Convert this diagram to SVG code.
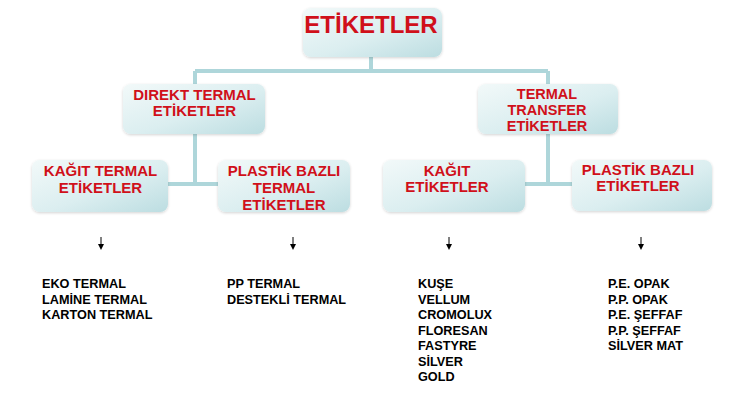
<svg xmlns="http://www.w3.org/2000/svg" width="746" height="400" viewBox="0 0 746 400">
<defs>
<linearGradient id="g" x1="0" y1="0" x2="1" y2="1">
<stop offset="0" stop-color="#f2f9f9"/>
<stop offset="0.55" stop-color="#dbeef0"/>
<stop offset="1" stop-color="#bcdde1"/>
</linearGradient>
<filter id="sh" x="-10%" y="-15%" width="120%" height="135%">
<feGaussianBlur in="SourceAlpha" stdDeviation="1.5"/>
<feOffset dx="0" dy="1"/>
<feComponentTransfer><feFuncA type="linear" slope="0.18"/></feComponentTransfer>
<feMerge><feMergeNode/><feMergeNode in="SourceGraphic"/></feMerge>
</filter>
<marker id="ah" markerWidth="6" markerHeight="6" refX="0" refY="3" orient="auto" markerUnits="userSpaceOnUse" viewBox="0 0 6 6">
<path d="M0,0 L6,3 L0,6 Z" fill="#000"/>
</marker>
</defs>
<style>
.box{fill:url(#g);filter:url(#sh)}
.t{font-family:"Liberation Sans",Arial,sans-serif;font-weight:bold;fill:#d0101a;text-anchor:middle;font-size:15px}
.root{font-size:24px}
.tt{font-size:14.5px}
.l{font-family:"Liberation Sans",Arial,sans-serif;font-weight:bold;fill:#000;font-size:12.7px}
.c{stroke:#aed6da;stroke-width:4;fill:none}
.a{stroke:#000;stroke-width:1;marker-end:url(#ah)}
</style>
<rect width="746" height="400" fill="#fff"/>
<g id="connectors">
<path class="c" d="M371,57 V71 M195,71 H548 M195,71 V84 M548,71 V84"/>
<path class="c" d="M195,134 V184 M168,184 H218"/>
<path class="c" d="M548,134 V184 M525,184 H572"/>
<line class="a" x1="101" y1="237" x2="101" y2="244"/>
<line class="a" x1="293" y1="237" x2="293" y2="244"/>
<line class="a" x1="449" y1="237" x2="449" y2="244"/>
<line class="a" x1="641" y1="237" x2="641" y2="244"/>
</g>
<g id="root">
<rect class="box" x="303" y="8" width="139" height="49" rx="8"/>
<text class="t root" x="371" y="33">ETİKETLER</text>
</g>
<g id="direkt">
<rect class="box" x="123" y="84" width="142" height="50" rx="8"/>
<text class="t" x="194.5" y="100">DIREKT TERMAL</text>
<text class="t" x="194.5" y="116">ETİKETLER</text>
</g>
<g id="transfer">
<rect class="box" x="478" y="84" width="140" height="50" rx="8"/>
<text class="t tt" x="547" y="99">TERMAL</text>
<text class="t tt" x="547" y="115">TRANSFER</text>
<text class="t tt" x="547" y="131">ETİKETLER</text>
</g>
<g id="kagit-termal">
<rect class="box" x="32" y="160" width="136" height="52" rx="8"/>
<text class="t" x="100.5" y="176">KAĞIT TERMAL</text>
<text class="t" x="100.5" y="193">ETİKETLER</text>
</g>
<g id="plastik-termal">
<rect class="box" x="218" y="160" width="132" height="52" rx="8"/>
<text class="t" x="284" y="176">PLASTİK BAZLI</text>
<text class="t" x="284" y="193">TERMAL</text>
<text class="t" x="284" y="210">ETİKETLER</text>
</g>
<g id="kagit-etiketler">
<rect class="box" x="383" y="160" width="142" height="52" rx="8"/>
<text class="t" x="447" y="176">KAĞIT</text>
<text class="t" x="447" y="192">ETİKETLER</text>
</g>
<g id="plastik-etiketler">
<rect class="box" x="572" y="160" width="140" height="51" rx="8"/>
<text class="t" x="638" y="175">PLASTİK BAZLI</text>
<text class="t" x="638" y="191">ETİKETLER</text>
</g>
<g id="list1">
<text class="l" x="42" y="288">EKO TERMAL</text>
<text class="l" x="42" y="303.5">LAMİNE TERMAL</text>
<text class="l" x="42" y="319">KARTON TERMAL</text>
</g>
<g id="list2">
<text class="l" x="227" y="288">PP TERMAL</text>
<text class="l" x="227" y="303.5">DESTEKLİ TERMAL</text>
</g>
<g id="list3">
<text class="l" x="418" y="288">KUŞE</text>
<text class="l" x="418" y="303.5">VELLUM</text>
<text class="l" x="418" y="319">CROMOLUX</text>
<text class="l" x="418" y="334.5">FLORESAN</text>
<text class="l" x="418" y="350">FASTYRE</text>
<text class="l" x="418" y="365.5">SİLVER</text>
<text class="l" x="418" y="381">GOLD</text>
</g>
<g id="list4">
<text class="l" x="608" y="288">P.E. OPAK</text>
<text class="l" x="608" y="303.5">P.P. OPAK</text>
<text class="l" x="608" y="319">P.E. ŞEFFAF</text>
<text class="l" x="608" y="334.5">P.P. ŞEFFAF</text>
<text class="l" x="608" y="350">SİLVER MAT</text>
</g>
</svg>
